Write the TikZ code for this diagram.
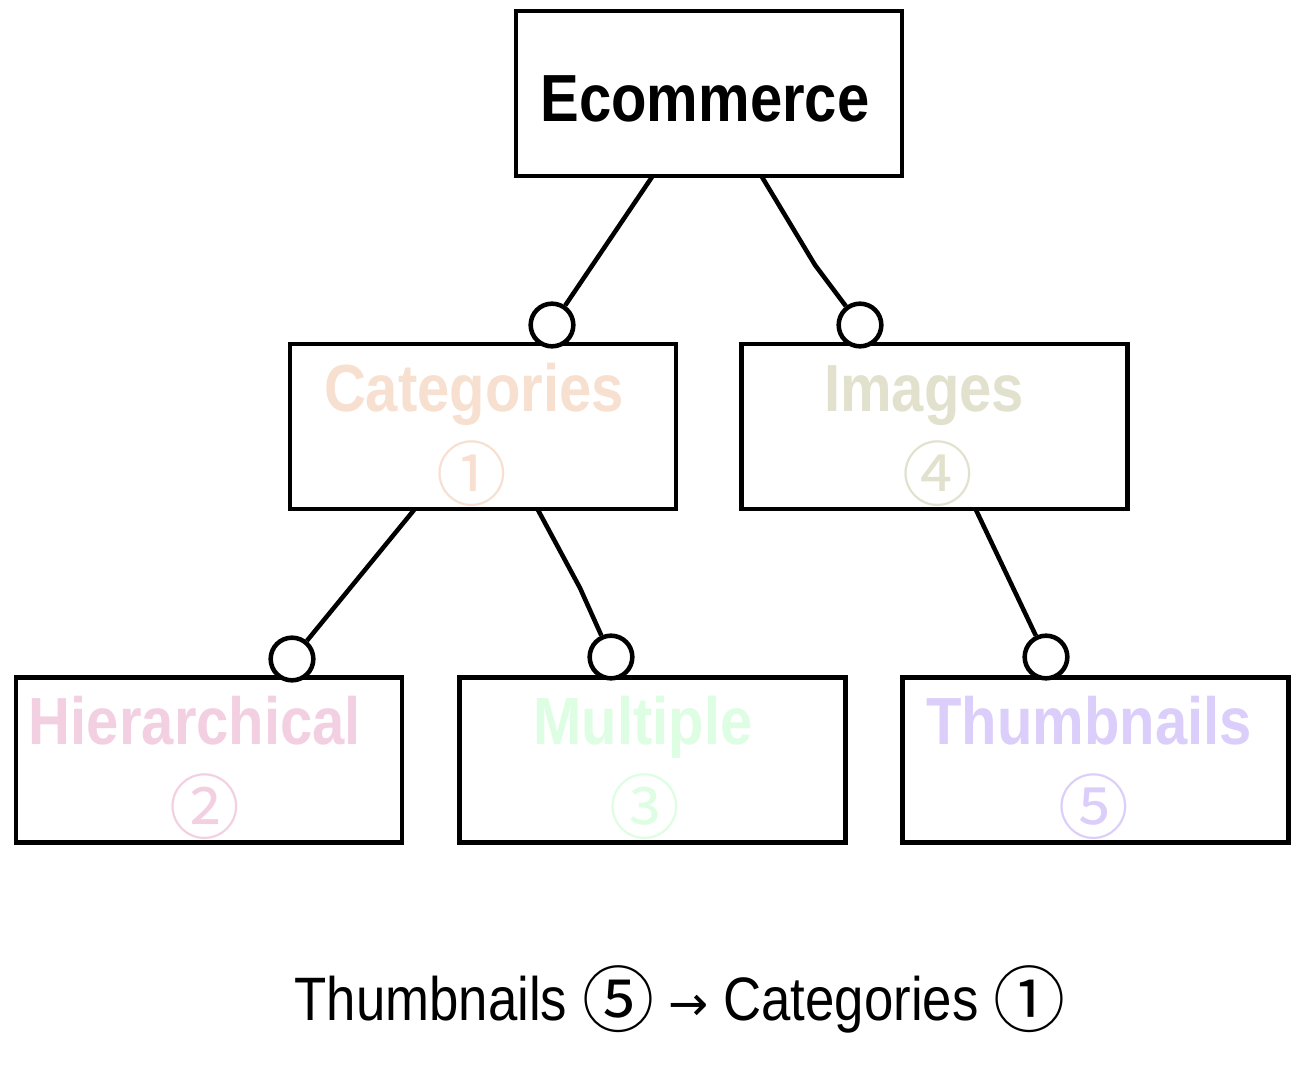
\documentclass[tikz,border=0pt]{standalone}
\usepackage{fontspec}
\setmainfont{Liberation Sans}
\newfontfamily\lblfont[FakeStretch=0.87]{Liberation Sans}
\newfontfamily\capfont[FakeStretch=0.86]{Liberation Sans}
\newfontfamily\cjkfont{Noto Sans CJK JP}
\newfontfamily\arrfont{DejaVu Sans}
\definecolor{catc}{HTML}{F7E0CF}
\definecolor{imgc}{HTML}{E2E1CD}
\definecolor{hierc}{HTML}{F2D0E2}
\definecolor{multc}{HTML}{DDFEE2}
\definecolor{thumbc}{HTML}{DCCEFA}
\begin{document}
\begin{tikzpicture}[x=0.75pt,y=-0.75pt,
  box/.style={draw=black,line width=3.4pt,rectangle,minimum width=289.5pt,minimum height=123.75pt,inner sep=0pt,fill=white},
  lbl/.style={anchor=base,inner sep=0pt,font=\lblfont\bfseries\fontsize{50}{50}\selectfont},
  num/.style={anchor=base,inner sep=0pt,font=\cjkfont\fontsize{53}{53}\selectfont},
  knob/.style={circle,draw=black,line width=3.4pt,fill=white,minimum size=32pt,inner sep=0pt},
  conn/.style={draw=black,line width=3.4pt}]
\useasboundingbox (0,0) rectangle (1305,1088);
% boxes
\node[box] (eco) at (709,93.5) {};
\node[box] (cat) at (483,426.5) {};
\node[box] (img) at (934.5,426.5) {};
\node[box] (hier) at (209,760) {};
\node[box] (mult) at (652.5,760) {};
\node[box] (thumb) at (1095.5,760) {};
% labels
\node[lbl,text=black] (ecot) at (705,121) {Ecommerce};
\node[lbl,text=catc] (catt) at (474,411) {Categories};
\node[num,text=catc] (catn) at (472,500) {①};
\node[lbl,text=imgc] (imgt) at (924,411) {Images};
\node[num,text=imgc] (imgn) at (938,500) {④};
\node[lbl,text=hierc] (hiert) at (195,744) {Hierarchical};
\node[num,text=hierc] (hiern) at (205,833) {②};
\node[lbl,text=multc] (multt) at (643,744) {Multiple};
\node[num,text=multc] (multn) at (645,833) {③};
\node[lbl,text=thumbc] (thumbt) at (1089,744) {Thumbnails};
\node[num,text=thumbc] (thumbn) at (1094,833) {⑤};
% connector points
\coordinate (e1) at (652,177);
\coordinate (e2) at (762,177);
\coordinate (e2k) at (815,265);
\coordinate (c1) at (414,510);
\coordinate (c2) at (538,510);
\coordinate (c2k) at (580,588);
\coordinate (i1) at (976,510);
% knobs
\node[knob] (kcat) at (552,325) {};
\node[knob] (kimg) at (860,325) {};
\node[knob] (khier) at (292,659) {};
\node[knob] (kmult) at (611,657) {};
\node[knob] (kthumb) at (1046,657) {};
% connectors
\draw[conn] (e1) -- (kcat);
\draw[conn] (e2) -- (e2k) -- (kimg);
\draw[conn] (c1) -- (khier);
\draw[conn] (c2) -- (c2k) -- (kmult);
\draw[conn] (i1) -- (kthumb);
% caption
\node[anchor=base,inner sep=0pt,font=\capfont\fontsize{46}{46}\selectfont] (cap) at (680,1020) {Thumbnails \raisebox{-5pt}{\cjkfont\fontsize{54}{54}\selectfont ⑤} {\arrfont\fontsize{36}{36}\selectfont →} Categories \raisebox{-5pt}{\cjkfont\fontsize{54}{54}\selectfont ①}};
\end{tikzpicture}
\end{document}
